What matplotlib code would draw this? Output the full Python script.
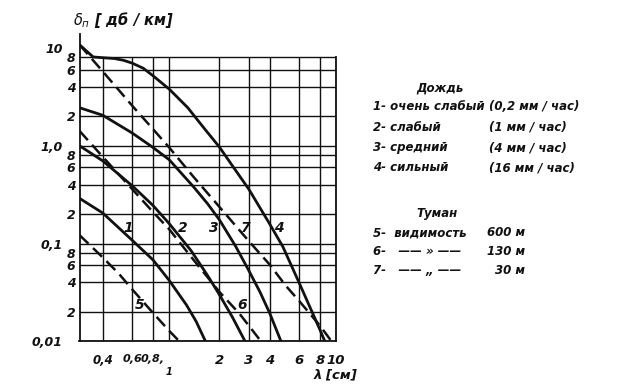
import numpy as np
import matplotlib
matplotlib.use("Agg")
import matplotlib.pyplot as plt

# ---- data (λ in cm, attenuation in dB/km) ----
# rain
x1 = [0.29, 0.40, 0.60, 0.80, 1.00, 1.27, 1.45, 1.65]
y1 = [0.29, 0.205, 0.108, 0.068, 0.042, 0.0235, 0.016, 0.010]

x2 = [0.29, 0.40, 0.60, 0.80, 1.00, 1.35, 1.70, 2.00, 2.40, 2.85]
y2 = [1.00, 0.70, 0.39, 0.245, 0.16, 0.085, 0.047, 0.030, 0.0175, 0.010]

x3 = [0.29, 0.40, 0.60, 0.80, 1.00, 1.40, 1.70, 2.00, 2.50, 3.00, 3.50, 4.00, 4.68]
y3 = [2.45, 2.05, 1.35, 0.96, 0.72, 0.38, 0.255, 0.175, 0.094, 0.053, 0.032, 0.0195, 0.010]

x4 = [0.29, 0.35, 0.40, 0.47, 0.53, 0.60, 0.70, 0.80, 1.00, 1.29, 1.62, 2.00, 2.40, 3.00, 4.00, 4.80, 6.00, 8.00, 8.57]
y4 = [10.8, 8.1, 7.95, 7.8, 7.5, 7.0, 6.2, 5.2, 3.8, 2.46, 1.51, 0.97, 0.62, 0.36, 0.159, 0.093, 0.040, 0.0132, 0.010]

# fog
x5 = [0.29, 0.40, 0.50, 0.60, 0.80, 1.00, 1.15]
y5 = [0.122, 0.072, 0.049, 0.034, 0.0195, 0.0128, 0.010]

x6 = [0.29, 0.40, 0.60, 0.80, 1.00, 1.40, 2.00, 2.65, 3.55]
y6 = [1.42, 0.77, 0.36, 0.21, 0.14, 0.068, 0.032, 0.019, 0.010]

x7 = [0.29, 0.40, 0.60, 0.80, 1.00, 1.40, 2.00, 3.00, 4.00, 5.00, 6.00, 8.00, 9.40]
y7 = [10.8, 5.75, 2.57, 1.48, 0.96, 0.48, 0.237, 0.106, 0.061, 0.037, 0.026, 0.0145, 0.010]

curve_labels = ["1", "2", "3", "7", "4", "5", "6"]
label_x = [0.568, 1.21, 1.84, 2.86, 4.53, 0.667, 2.75]
label_y = [0.143, 0.143, 0.143, 0.143, 0.143, 0.0235, 0.0235]

x_ticks = [0.4, 0.6, 0.8, 1, 2, 3, 4, 6, 8, 10]
x_tick_labels = ["0,4", "0,6", "0,8,", "", "2", "3", "4", "6", "8", "10"]
x_tick_sizes = [8.5, 8, 8, 8, 9.5, 9.5, 9.5, 9.5, 9.5, 9.5]
y_major = [0.01, 0.1, 1, 10]
y_major_labels = ["0,01", "0,1", "1,0", "10"]
y_minor = [0.02, 0.04, 0.06, 0.08, 0.2, 0.4, 0.6, 0.8, 2, 4, 6, 8]
y_minor_labels = ["2", "4", "6", "8"] * 3

rain_title = "Дождь"
rain_items = [("1- очень слабый", "(0,2 мм / час)"),
              ("2- слабый", "(1 мм / час)"),
              ("3- средний", "(4 мм / час)"),
              ("4- сильный", "(16 мм / час)")]
fog_title = "Туман"
fog_items = [("5-  видимость", "600 м"),
             ("6-   —— » ——", "130 м"),
             ("7-   —— „ ——", "30 м")]

# ---- figure ----
W, H = 623, 384
fig = plt.figure(figsize=(W / 100, H / 100), dpi=100)
ax = fig.add_axes([79.5 / W, 1 - 341.3 / H, 256.5 / W, 307.6 / H])
ax.set_xscale("log")
ax.set_yscale("log")
xmin, xmax = 0.29, 10
ymin, ymax = 0.01, 14

ink = "#111111"
fkw = dict(style="italic", weight="bold", family="DejaVu Sans", color=ink)

# grid
ax.hlines(y_minor + y_major[:3], xmin, xmax, color=ink, lw=1.0, zorder=1)
ax.vlines(x_ticks, ymin, 8, color=ink, lw=1.0, zorder=1)

# curves
for xs, ys in [(x1, y1), (x2, y2), (x3, y3), (x4, y4)]:
    ax.plot(xs, ys, color=ink, lw=2.0, solid_joinstyle="round", zorder=3)
for xs, ys in [(x5, y5), (x6, y6), (x7, y7)]:
    ax.plot(xs, ys, color=ink, lw=1.8, dashes=(5, 2.5), zorder=3)

ax.set_xlim(xmin, xmax)
ax.set_ylim(ymin, ymax)

for t, lx, ly in zip(curve_labels, label_x, label_y):
    ax.text(lx, ly, t, fontsize=10, ha="center", va="center", zorder=4, **fkw)

# spines
ax.spines["top"].set_visible(False)
ax.spines["right"].set_bounds(ymin, 8)
for s in ["left", "bottom", "right"]:
    ax.spines[s].set_color(ink)
    ax.spines[s].set_linewidth(1.3)

# ticks
ax.set_xticks(x_ticks)
ax.set_xticklabels(x_tick_labels)
ax.set_xticks([], minor=True)
ax.set_yticks(y_major)
ax.set_yticklabels(y_major_labels)
ax.set_yticks(y_minor, minor=True)
ax.set_yticklabels(y_minor_labels, minor=True)
ax.tick_params(axis="x", which="both", length=0, pad=9)
ax.tick_params(axis="y", which="major", length=0, pad=12, labelsize=9)
ax.tick_params(axis="y", which="minor", length=0, pad=3, labelsize=9)
for lab, sz in zip(ax.get_xticklabels(), x_tick_sizes):
    lab.set_fontsize(sz)
for lab in ax.get_xticklabels() + ax.get_yticklabels() + ax.get_yticklabels(minor=True):
    lab.set_fontstyle("italic")
    lab.set_fontweight("bold")
    lab.set_color(ink)

# the small "1" after "0,8,"
ax.text(1.0, -0.1, "1", transform=ax.get_xaxis_transform(), fontsize=7,
        ha="center", va="center", **fkw)

# axis titles
fig.text(73 / W, 1 - 20 / H, r"$\delta_{п}$ [ дб / км]", fontsize=10.5,
         ha="left", va="center", **fkw)
fig.text(357 / W, 1 - 375 / H, "λ [см]", fontsize=9.5, ha="right",
         va="center", **fkw)

# legend text
fs = 8.5
fig.text(440 / W, 1 - 88 / H, rain_title, fontsize=fs, ha="center", va="center", **fkw)
for i, (a, b) in enumerate(rain_items):
    yy = 1 - (107 + 20.3 * i) / H
    fig.text(373 / W, yy, a, fontsize=fs, ha="left", va="center", **fkw)
    fig.text(489 / W, yy, b, fontsize=fs, ha="left", va="center", **fkw)
fig.text(437 / W, 1 - 213 / H, fog_title, fontsize=fs, ha="center", va="center", **fkw)
for i, (a, b) in enumerate(fog_items):
    yy = 1 - (233 + 18.5 * i) / H
    fig.text(373 / W, yy, a, fontsize=fs, ha="left", va="center", **fkw)
    fig.text(525 / W, yy, b, fontsize=fs, ha="right", va="center", **fkw)

fig.savefig("out.png", dpi=100)
